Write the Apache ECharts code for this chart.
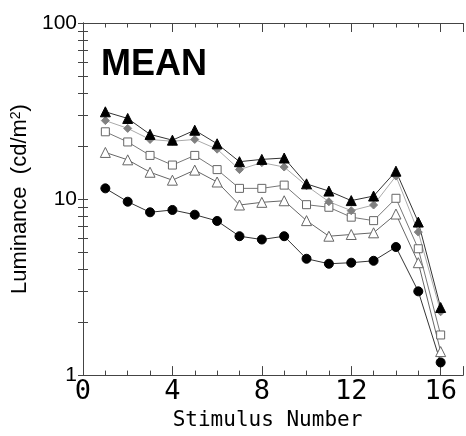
<!DOCTYPE html>
<html><head><meta charset="utf-8">
<script src="https://cdn.jsdelivr.net/npm/echarts@6/dist/echarts.min.js"></script>
<style>html,body{margin:0;padding:0;background:#fff}#c{width:466px;height:436px}</style>
</head><body><div id="c"></div>
<script>
const stimulus = [1,2,3,4,5,6,7,8,9,10,11,12,13,14,15,16];
const filledTriangle = [31.3,28.7,23.3,21.6,24.6,20.6,16.3,16.8,17.1,12.2,11.1,9.8,10.4,14.4,7.4,2.42];
const greyDiamond   = [27.9,25.2,21.8,21.3,21.8,19.2,14.7,16.1,15.2,11.9,9.66,8.59,9.25,13.5,6.49,2.29];
const openSquare    = [24.1,21.1,17.7,15.6,17.7,14.7,11.5,11.5,12.0,9.29,8.98,7.89,7.54,10.1,5.22,1.69];
const openTriangle  = [18.4,16.7,14.2,12.8,14.6,12.5,9.25,9.58,9.78,7.54,6.15,6.29,6.43,8.22,4.35,1.36];
const filledCircle  = [11.5,9.66,8.41,8.67,8.15,7.51,6.15,5.89,6.15,4.58,4.29,4.35,4.46,5.34,2.99,1.18];
const xMajorTicks = [0,4,8,12,16];
const yMinorTicks = [1,2,3,4,5,6,7,8,9,10,20,30,40,50,60,70,80,90,100];

const pairs = arr => stimulus.map((s,i)=>[s,arr[i]]);
const chart = echarts.init(document.getElementById('c'));
const axisLine = {show:true, lineStyle:{color:'#444', width:1}};
function xAx(pos, interval, len, labels){
  return {type:'value', position:pos, min:0, max:17, interval:interval,
    axisLine: axisLine, splitLine:{show:false},
    axisTick:{show:true, inside:true, length:len, lineStyle:{color:'#444'}},
    axisLabel: labels ? {show:true, margin:3, fontFamily:'DejaVu Sans Mono', fontSize:27, color:'#000',
      formatter: v => xMajorTicks.includes(v) ? String(v) : ''} : {show:false}};
}
function yAx(pos, labels){
  return {type:'log', logBase:10, position:pos, min:1, max:100,
    axisLine: axisLine, splitLine:{show:false},
    axisTick:{show:true, inside:true, length:5, customValues:yMinorTicks, lineStyle:{color:'#444'}},
    minorTick:{show:false},
    axisLabel: labels ? {show:true, margin:6, fontFamily:'Liberation Sans, Arial', fontSize:21, color:'#000'} : {show:false}};
}
const xAxes = [xAx('bottom',4,9,true), xAx('bottom',1,4.5,false), xAx('top',4,9,false), xAx('top',1,4.5,false)];
xAxes[0].name = 'Stimulus Number';
xAxes[0].nameLocation = 'middle';
xAxes[0].nameGap = 31;
xAxes[0].nameTextStyle = {fontFamily:'DejaVu Sans Mono', fontSize:21, color:'#000', padding:[0,11,0,0]};
const yAxes = [yAx('left',true), yAx('right',false)];
yAxes[0].name = 'Luminance  (cd/m{sup|2})';
yAxes[0].nameLocation = 'middle';
yAxes[0].nameGap = 49;
yAxes[0].nameTextStyle = {fontFamily:'Liberation Sans, Arial', fontSize:22, color:'#000',
  rich:{sup:{fontFamily:'Liberation Sans, Arial', fontSize:14, color:'#000', verticalAlign:'top', padding:[0,0,8,0]}}};

function ser(name, data, symbol, size, fill, border, lineColor){
  return {name, type:'line', xAxisIndex:0, yAxisIndex:0, data:pairs(data), symbol, symbolSize:size,
    showAllSymbol:true, animation:false,
    lineStyle:{color:lineColor, width:1},
    itemStyle:{color:fill, borderColor:border, borderWidth:1}};
}
chart.setOption({
  animation:false,
  grid:{left:83, top:23, width:385, height:354},
  xAxis: xAxes,
  yAxis: yAxes,
  graphic:[{type:'text', left:101, top:47, style:{text:'MEAN', font:'bold 36px "Liberation Sans", Arial', fill:'#000'}}],
  series:[
    ser('openTriangle', openTriangle, 'triangle', 10, '#fff', '#666', '#666'),
    ser('filledCircle', filledCircle, 'circle', 9, '#000', '#000', '#333'),
    ser('openSquare', openSquare, 'rect', 8, '#fff', '#666', '#777'),
    ser('greyDiamond', greyDiamond, 'diamond', 8, '#808080', '#808080', '#aaa'),
    ser('filledTriangle', filledTriangle, 'triangle', 10, '#000', '#000', '#333')
  ]
});
</script></body></html>
